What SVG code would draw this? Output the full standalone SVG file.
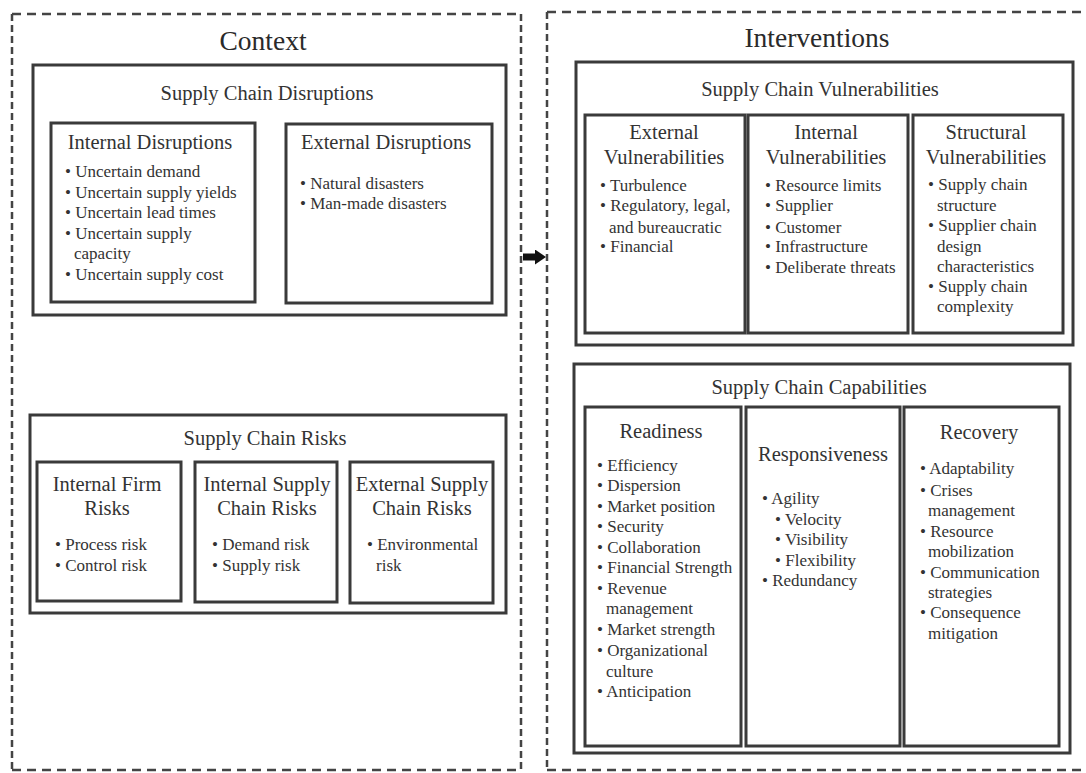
<svg xmlns="http://www.w3.org/2000/svg" width="1086" height="773" viewBox="0 0 1086 773">
<style>
  .dash-h { stroke:#444; stroke-width:2.5; stroke-dasharray:9 6; fill:none; }
  .dash-v { stroke:#444; stroke-width:2.5; stroke-dasharray:7 4; fill:none; }
  .box { fill:#fff; stroke:#3a3a3a; stroke-width:3; }
  .big { font-family:"Liberation Serif","Times New Roman",serif; font-size:27.5px; fill:#2a2a2a; text-anchor:middle; }
  .title { font-family:"Liberation Serif","Times New Roman",serif; font-size:20.5px; fill:#333; text-anchor:middle; }
  .item { font-family:"Liberation Serif","Times New Roman",serif; font-size:17px; fill:#333; }
  .arrowline { stroke:#111; stroke-width:7; fill:none; }
</style>
<defs>
  <marker id="ah" markerUnits="userSpaceOnUse" markerWidth="11" markerHeight="15" refX="0" refY="7.5" orient="auto">
    <path d="M0,0 L11,7.5 L0,15 z" fill="#111"/>
  </marker>
</defs>
<rect x="0" y="0" width="1086" height="773" fill="#fff"/>

<!-- Context container -->
<g id="context">
  <line class="dash-h" x1="12" y1="14" x2="521" y2="14"/>
  <line class="dash-h" x1="12" y1="770" x2="521" y2="770"/>
  <line class="dash-v" x1="12" y1="14" x2="12" y2="770"/>
  <line class="dash-v" x1="521" y1="14" x2="521" y2="770"/>
  <text class="big" x="263" y="50">Context</text>
</g>

<!-- Interventions container -->
<g id="interventions">
  <line class="dash-h" x1="547" y1="12" x2="1090" y2="12"/>
  <line class="dash-h" x1="547" y1="770" x2="1090" y2="770"/>
  <line class="dash-v" x1="547" y1="12" x2="547" y2="770"/>
  <text class="big" x="817" y="47">Interventions</text>
</g>

<!-- Supply Chain Disruptions -->
<g id="scd">
  <rect class="box" x="33" y="65" width="473" height="250"/>
  <text class="title" x="267" y="100">Supply Chain Disruptions</text>
</g>
<g id="internal-disruptions">
  <rect class="box" x="51" y="123" width="204" height="179"/>
  <text class="title" x="150" y="149">Internal Disruptions</text>
  <text class="item" x="65" y="177">• Uncertain demand</text>
  <text class="item" x="65" y="198">• Uncertain supply yields</text>
  <text class="item" x="65" y="218">• Uncertain lead times</text>
  <text class="item" x="65" y="239">• Uncertain supply</text>
  <text class="item" x="74" y="259">capacity</text>
  <text class="item" x="65" y="280">• Uncertain supply cost</text>
</g>
<g id="external-disruptions">
  <rect class="box" x="286" y="124" width="206" height="179"/>
  <text class="title" x="386" y="149">External Disruptions</text>
  <text class="item" x="300" y="189">• Natural disasters</text>
  <text class="item" x="300" y="209">• Man-made disasters</text>
</g>

<!-- Supply Chain Risks -->
<g id="scr">
  <rect class="box" x="30" y="415" width="476" height="198"/>
  <text class="title" x="265" y="445">Supply Chain Risks</text>
</g>
<g id="internal-firm-risks">
  <rect class="box" x="37" y="462" width="144" height="139"/>
  <text class="title" x="107" y="491">Internal Firm</text>
  <text class="title" x="107" y="515">Risks</text>
  <text class="item" x="55" y="550">• Process risk</text>
  <text class="item" x="55" y="571">• Control risk</text>
</g>
<g id="internal-sc-risks">
  <rect class="box" x="195" y="462" width="142" height="140"/>
  <text class="title" x="267" y="491">Internal Supply</text>
  <text class="title" x="267" y="515">Chain Risks</text>
  <text class="item" x="212" y="550">• Demand risk</text>
  <text class="item" x="212" y="571">• Supply risk</text>
</g>
<g id="external-sc-risks">
  <rect class="box" x="350" y="462" width="143" height="141"/>
  <text class="title" x="422" y="491">External Supply</text>
  <text class="title" x="422" y="515">Chain Risks</text>
  <text class="item" x="367" y="550">• Environmental</text>
  <text class="item" x="376" y="571">risk</text>
</g>

<!-- Supply Chain Vulnerabilities -->
<g id="scv">
  <rect class="box" x="576" y="62" width="497" height="283"/>
  <text class="title" x="820" y="96">Supply Chain Vulnerabilities</text>
</g>
<g id="external-vuln">
  <rect class="box" x="585" y="115" width="160" height="218"/>
  <text class="title" x="664" y="139">External</text>
  <text class="title" x="664" y="164">Vulnerabilities</text>
  <text class="item" x="600" y="191">• Turbulence</text>
  <text class="item" x="600" y="211">• Regulatory, legal,</text>
  <text class="item" x="609" y="233">and bureaucratic</text>
  <text class="item" x="600" y="252">• Financial</text>
</g>
<g id="internal-vuln">
  <rect class="box" x="748" y="115" width="160" height="218"/>
  <text class="title" x="826" y="139">Internal</text>
  <text class="title" x="826" y="164">Vulnerabilities</text>
  <text class="item" x="765" y="191">• Resource limits</text>
  <text class="item" x="765" y="211">• Supplier</text>
  <text class="item" x="765" y="233">• Customer</text>
  <text class="item" x="765" y="252">• Infrastructure</text>
  <text class="item" x="765" y="273">• Deliberate threats</text>
</g>
<g id="structural-vuln">
  <rect class="box" x="913" y="115" width="150" height="218"/>
  <text class="title" x="986" y="139">Structural</text>
  <text class="title" x="986" y="164">Vulnerabilities</text>
  <text class="item" x="928" y="190">• Supply chain</text>
  <text class="item" x="937" y="211">structure</text>
  <text class="item" x="928" y="231">• Supplier chain</text>
  <text class="item" x="937" y="252">design</text>
  <text class="item" x="937" y="272">characteristics</text>
  <text class="item" x="928" y="292">• Supply chain</text>
  <text class="item" x="937" y="312">complexity</text>
</g>

<!-- Supply Chain Capabilities -->
<g id="scc">
  <rect class="box" x="574" y="364" width="496" height="389"/>
  <text class="title" x="819" y="394">Supply Chain Capabilities</text>
</g>
<g id="readiness">
  <rect class="box" x="585" y="407" width="156" height="339"/>
  <text class="title" x="661" y="438">Readiness</text>
  <text class="item" x="597" y="471">• Efficiency</text>
  <text class="item" x="597" y="491">• Dispersion</text>
  <text class="item" x="597" y="512">• Market position</text>
  <text class="item" x="597" y="532">• Security</text>
  <text class="item" x="597" y="553">• Collaboration</text>
  <text class="item" x="597" y="573">• Financial Strength</text>
  <text class="item" x="597" y="594">• Revenue</text>
  <text class="item" x="606" y="614">management</text>
  <text class="item" x="597" y="635">• Market strength</text>
  <text class="item" x="597" y="656">• Organizational</text>
  <text class="item" x="606" y="677">culture</text>
  <text class="item" x="597" y="697">• Anticipation</text>
</g>
<g id="responsiveness">
  <rect class="box" x="746" y="407" width="154" height="339"/>
  <text class="title" x="823" y="461">Responsiveness</text>
  <text class="item" x="762" y="504">• Agility</text>
  <text class="item" x="775" y="525">• Velocity</text>
  <text class="item" x="775" y="545">• Visibility</text>
  <text class="item" x="775" y="566">• Flexibility</text>
  <text class="item" x="762" y="586">• Redundancy</text>
</g>
<g id="recovery">
  <rect class="box" x="904" y="407" width="155" height="339"/>
  <text class="title" x="979" y="439">Recovery</text>
  <text class="item" x="920" y="474">• Adaptability</text>
  <text class="item" x="920" y="496">• Crises</text>
  <text class="item" x="928" y="516">management</text>
  <text class="item" x="920" y="537">• Resource</text>
  <text class="item" x="928" y="557">mobilization</text>
  <text class="item" x="920" y="578">• Communication</text>
  <text class="item" x="928" y="598">strategies</text>
  <text class="item" x="920" y="618">• Consequence</text>
  <text class="item" x="928" y="639">mitigation</text>
</g>

<!-- Connectors -->
<g id="connectors">
  <line class="arrowline" x1="523" y1="257" x2="535" y2="257" marker-end="url(#ah)"/>
</g>
</svg>
